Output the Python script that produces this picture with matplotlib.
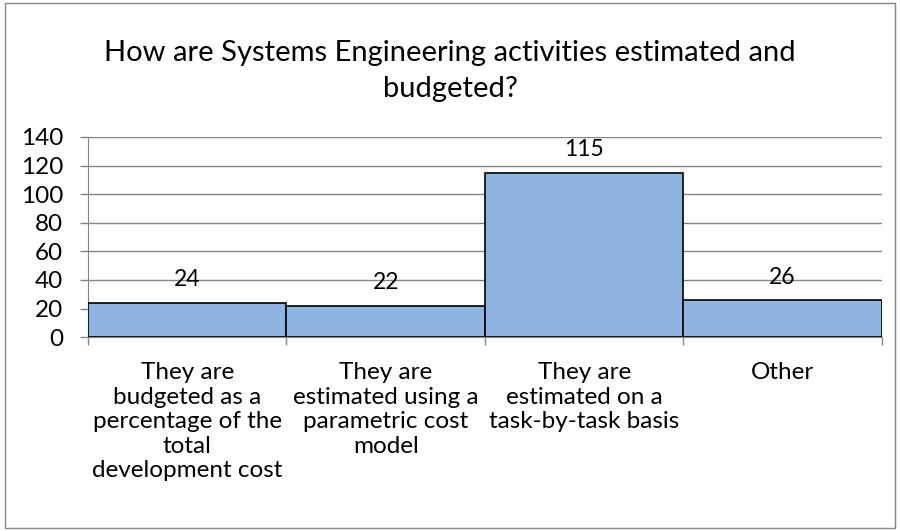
import matplotlib
matplotlib.use('Agg')
import matplotlib.pyplot as plt
from matplotlib.patches import Rectangle

plt.rcParams['font.family'] = ['Lato', 'DejaVu Sans']

categories = ['They are\nbudgeted as a\npercentage of the\ntotal\ndevelopment cost',
              'They are\nestimated using a\nparametric cost\nmodel',
              'They are\nestimated on a\ntask-by-task basis',
              'Other']
counts = [24, 22, 115, 26]
y_ticks = [0, 20, 40, 60, 80, 100, 120, 140]
title = 'How are Systems Engineering activities estimated and\nbudgeted?'

bar_color = '#8EB4E3'
grid_color = '#868686'

fig = plt.figure(figsize=(9, 5.31), dpi=100)
ax = fig.add_axes([0.0978, 0.365, 0.882, 0.377])

x = list(range(len(counts)))
ax.bar(x, counts, width=1.0, color=bar_color, edgecolor='black', linewidth=1.2, zorder=3)

for xi, v in zip(x, counts):
    ax.annotate(str(v), (xi, v), xytext=(0, 16.5), textcoords='offset points',
                ha='center', va='center', fontsize=16.5)

ax.set_xlim(-0.5, len(counts) - 0.5)
ax.set_ylim(0, 140)
ax.set_yticks(y_ticks)
ax.tick_params(axis='y', labelsize=17.5, length=6, color=grid_color, width=1, pad=12)
ax.yaxis.grid(True, color=grid_color, linewidth=1, zorder=0)
ax.set_axisbelow(True)

# category labels, ticks at the boundaries
ax.set_xticks([i - 0.5 for i in range(len(counts) + 1)])
ax.set_xticklabels([])
ax.tick_params(axis='x', length=6, color=grid_color, width=1)
for xi, lab in zip(x, categories):
    ax.text(xi, -0.125, lab, transform=ax.get_xaxis_transform(), ha='center', va='top',
            fontsize=17.5, linespacing=1.21)

for side in ['top', 'right']:
    ax.spines[side].set_visible(False)
ax.spines['left'].set_color(grid_color)
ax.spines['bottom'].set_color(grid_color)

fig.text(0.5, 0.866, title, ha='center', va='center', fontsize=21, linespacing=1.5)

fig.patches.append(Rectangle((0.006, 0.006), 0.988, 0.988, transform=fig.transFigure,
                             fill=False, edgecolor='#868686', linewidth=1))

fig.savefig('out.png', dpi=100)
